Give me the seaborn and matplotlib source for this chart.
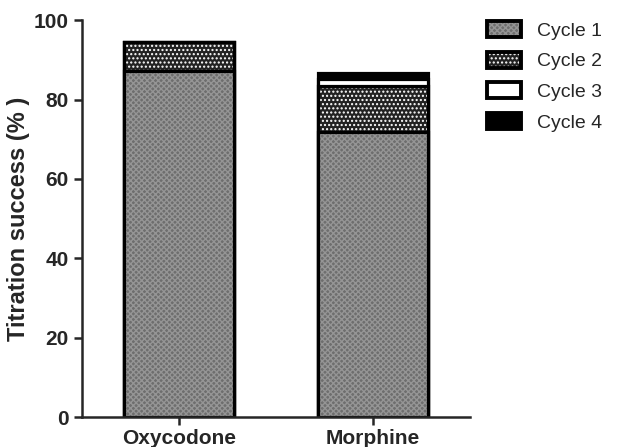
import numpy as np
import pandas as pd
import matplotlib
matplotlib.use("Agg")
import matplotlib.pyplot as plt
import seaborn as sns
from matplotlib.patches import Patch
from matplotlib.legend_handler import HandlerTuple

# values (%)
drugs = ["Oxycodone", "Morphine"]
cycle1 = [87.2, 71.8]
cycle2 = [7.3, 11.6]
cycle3 = [0.0, 1.7]
cycle4 = [0.0, 1.5]
cycle_names = ["Cycle 1", "Cycle 2", "Cycle 3", "Cycle 4"]

sns.set_style("ticks")
plt.rcParams["font.family"] = ["Liberation Sans", "DejaVu Sans"]
plt.rcParams["hatch.linewidth"] = 1.0

df = pd.DataFrame({"drug": drugs, "c1": cycle1, "c2": cycle2, "c3": cycle3, "c4": cycle4})
cum = df[["c1", "c2", "c3", "c4"]].cumsum(axis=1)
df["s1"], df["s2"], df["s3"], df["s4"] = cum["c1"], cum["c2"], cum["c3"], cum["c4"]

# fill style per cycle: (facecolor, hatch, hatch colour)
styles = [("#6e6e6e", "xxxxxx", "#959595"),
          ("#222222", "....", "white"),
          ("white", None, "white"),
          ("black", None, "black")]

fig = plt.figure(figsize=(6.17, 4.47), dpi=100)
ax = fig.add_axes([0.133, 0.067, 0.629, 0.888])

W = 0.57
# draw cumulative totals back to front so each layer covers the one under it
for col, (fc, h, hc) in zip(["s4", "s3", "s2", "s1"], styles[::-1]):
    sns.barplot(data=df, x="drug", y=col, color=fc, saturation=1, width=W,
                hatch=h, edgecolor=hc, linewidth=0, ax=ax, errorbar=None)
    sns.barplot(data=df, x="drug", y=col, width=W, fill=False,
                edgecolor="black", linewidth=2.3, ax=ax, errorbar=None)

ax.set_xlim(-0.5, 1.5)
ax.set_ylim(0, 100)
ax.set_yticks([0, 20, 40, 60, 80, 100])
ax.set_xlabel("")
ax.set_ylabel("Titration success (% )", fontsize=17, fontweight="bold", labelpad=3)
ax.tick_params(axis="both", labelsize=15, width=1.8, length=6, direction="out")
ax.tick_params(axis="x", pad=2.5)
for lab in ax.get_xticklabels() + ax.get_yticklabels():
    lab.set_fontweight("bold")
sns.despine(ax=ax)
for s in ["left", "bottom"]:
    ax.spines[s].set_linewidth(1.8)

handles = []
for fc, h, hc in styles:
    fill = Patch(facecolor=fc, hatch=h, edgecolor=hc, linewidth=0)
    edge = Patch(facecolor="none", edgecolor="black", linewidth=2.8)
    handles.append((fill, edge))
fig.legend(handles, cycle_names, handler_map={tuple: HandlerTuple(ndivide=1, pad=0)},
           loc="upper left", bbox_to_anchor=(0.774, 0.975), frameon=False,
           fontsize=14, handlelength=1.75, handleheight=0.88,
           handletextpad=0.8, labelspacing=0.62, borderpad=0)

fig.savefig("out.png", dpi=100)
